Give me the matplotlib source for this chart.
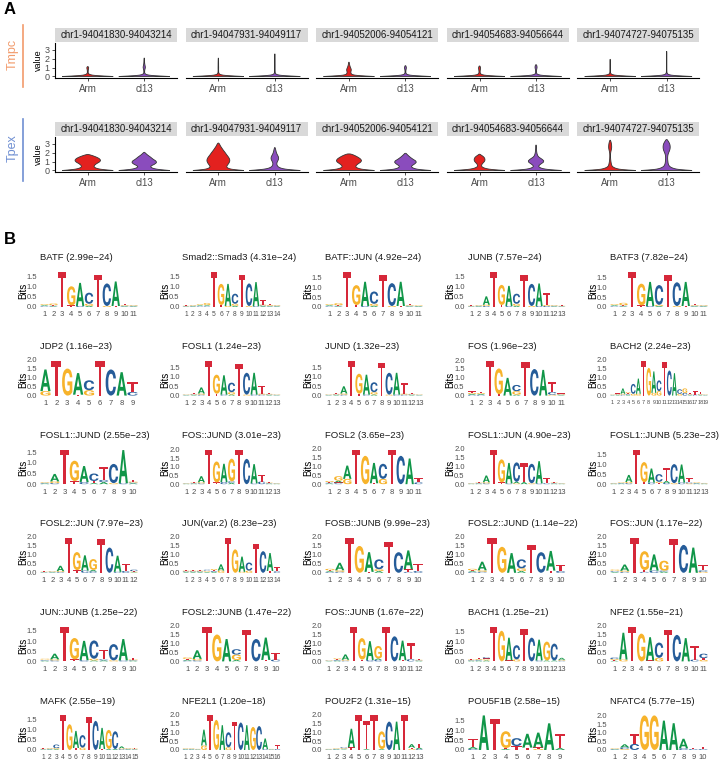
import re
import numpy as np
import matplotlib
matplotlib.use("Agg")
import matplotlib.pyplot as plt
from matplotlib.textpath import TextPath
from matplotlib.patches import PathPatch
from matplotlib.path import Path
from matplotlib.font_manager import FontProperties
from matplotlib.transforms import Affine2D
from matplotlib.lines import Line2D

W, H = 722, 763
plt.rcParams["font.family"] = ["Liberation Sans", "DejaVu Sans"]

# ---------------- panel A data ----------------
regions = ["chr1-94041830-94043214", "chr1-94047931-94049117", "chr1-94052006-94054121",
           "chr1-94054683-94056644", "chr1-94074727-94075135"]
groups = ["Arm", "cl13"]
group_colors = ["#E3211F", "#8A4CBD"]
row_names = ["Tmpc", "Tpex"]
row_colors = ["#F29B6C", "#6F8FD2"]

# violin half-width profile (fraction of max) at these value levels
levels = [0, .1, .2, .35, .5, .75, 1, 1.25, 1.5, 1.75, 2, 2.25, 2.5, 2.75, 3, 3.25]

tmpc_widths = [
    [[1, .3, .08, .02, .015, .02, .045],
     [1, .3, .08, .02, .015, .02, .05, .03, .015, .012, .01]],
    [[1, .3, .07, .02, .012, .01, .012, .01, .01, .008, .006],
     [1, .3, .07, .02, .012, .01, .01, .01, .01, .008, .008, .006, .005]],
    [[1, .35, .12, .08, .07, .1, .06, .03, .015],
     [1, .3, .07, .02, .015, .02, .045]],
    [[1, .3, .08, .03, .02, .03, .045],
     [1, .3, .07, .02, .015, .02, .045, .03]],
    [[1, .3, .07, .02, .01, .008, .008, .008, .008, .008],
     [1, .3, .07, .02, .01, .008, .008, .008, .008, .008, .008, .008, .008, .008]],
]
tmpc_tops = [[1.15, 2.1], [2.1, 2.55], [1.65, 1.3], [1.25, 1.35], [2.0, 2.85]]

tpex_widths = [
    [[1, .6, .38, .26, .24, .33, .5, .5, .35, .1],
     [1, .6, .38, .26, .25, .45, .5, .35, .25, .12, .03]],
    [[1, .6, .42, .33, .33, .4, .45, .45, .4, .33, .27, .2, .14, .08, .04],
     [1, .55, .3, .16, .1, .07, .1, .15, .15, .1, .06, .04, .02]],
    [[1, .6, .4, .28, .26, .36, .5, .48, .35, .18],
     [1, .55, .36, .25, .23, .38, .45, .3, .18, .08]],
    [[1, .5, .26, .12, .07, .1, .2, .22, .18, .05],
     [1, .5, .26, .13, .09, .2, .33, .25, .1, .05, .03, .02, .015, .01]],
    [[1, .45, .26, .13, .07, .045, .03, .02, .015, .015, .02, .04, .06, .06, .05, .03],
     [1, .5, .3, .17, .1, .06, .05, .04, .04, .05, .08, .12, .14, .14, .12, .07]],
]
tpex_tops = [[1.8, 2.05], [3.1, 2.6], [1.9, 2.0], [1.85, 2.9], [3.45, 3.55]]

# ---------------- panel B data ----------------
motif_names = ["BATF", "Smad2::Smad3", "BATF::JUN", "JUNB", "BATF3",
               "JDP2", "FOSL1", "JUND", "FOS", "BACH2",
               "FOSL1::JUND", "FOS::JUND", "FOSL2", "FOSL1::JUN", "FOSL1::JUNB",
               "FOSL2::JUN", "JUN(var.2)", "FOSB::JUNB", "FOSL2::JUND", "FOS::JUN",
               "JUN::JUNB", "FOSL2::JUNB", "FOS::JUNB", "BACH1", "NFE2",
               "MAFK", "NFE2L1", "POU2F2", "POU5F1B", "NFATC4"]
motif_pvals = ["2.99e\u221224", "4.31e\u221224", "4.92e\u221224", "7.57e\u221224", "7.82e\u221224",
               "1.16e\u221223", "1.24e\u221223", "1.32e\u221223", "1.96e\u221223", "2.24e\u221223",
               "2.55e\u221223", "3.01e\u221223", "3.65e\u221223", "4.90e\u221223", "5.23e\u221223",
               "7.97e\u221223", "8.23e\u221223", "9.99e\u221223", "1.14e\u221222", "1.17e\u221222",
               "1.25e\u221222", "1.47e\u221222", "1.67e\u221222", "1.25e\u221221", "1.55e\u221221",
               "2.55e\u221219", "1.20e\u221218", "1.31e\u221215", "2.58e\u221215", "5.77e\u221215"]

# letter heights (bits) per position
motif_cols = [
    ["A.04C.03G.04T.03", "A.03C.03G.08T.03", "T1.72", "T.08G.95", "C.05A1.15", "A.06G.1C.55",
     "T1.6", "G.05C1.12", "T.05A1.22", "A.03C.03G.03T.07", "A.03C.03G.03T.03"],
    ["A.02C.02G.02T.02", "A.03C.03G.03T.03", "A.04C.03G.04T.03", "A.04C.03G.1T.03", "T1.72",
     "T.1G1.05", "G.05A1.1", "A.06G.1C.5", "T1.6", "G.05C1.12", "C.04A1.2", "A.04C.04G.04T.22",
     "A.03C.03G.04T.04", "A.03C.03G.03T.03"],
    ["A.04C.03G.04T.03", "A.03C.03G.1T.03", "T1.74", "T.1G1.0", "C.05A1.22", "A.06G.1C.62",
     "T1.6", "G.05C1.15", "T.05A1.22", "A.03C.03G.03T.08", "A.03C.02G.03T.03"],
    ["A.02C.02G.02T.02", "A.03C.03G.03T.03", "C.05G.06A.42", "T1.72", "T.1G1.0", "C.05A1.0",
     "A.06G.1C.5", "T1.58", "G.05C1.1", "C.05A1.12", "C.05G.05T.62", "A.03C.03G.03T.03",
     "A.02C.02G.02T.02"],
    ["A.04C.03G.04T.03", "A.03C.03G.12T.03", "T1.75", "T.08G1.1", "C.05A1.22", "A.05G.06C1.0",
     "T1.6", "G.05C1.2", "T.05A1.22", "A.03C.03G.03T.08", "A.03C.03G.03T.03"],
    ["G.25A1.2", "T1.92", "G1.5", "T.05A1.2", "G.3C.55", "T1.92", "C1.45", "A1.3", "C.2T.55"],
    ["A.02C.02G.02T.02", "A.03C.03G.03T.03", "C.05G.06A.32", "T1.82", "T.1G1.0", "C.05A1.02",
     "A.06G.12C.5", "T1.68", "G.05C1.15", "C.05A1.15", "C.05G.05T.4", "A.03C.03G.03T.03",
     "A.02C.02G.02T.02"],
    ["A.02C.02G.02T.02", "A.03C.03G.03T.03", "C.05G.06A.38", "T1.82", "T.1G1.05", "C.05A1.05",
     "A.06G.12C.52", "T1.72", "G.05C1.15", "C.05A1.15", "C.05G.05T.55", "A.03C.03G.03T.03",
     "A.02C.02G.02T.02"],
    ["A.05C.04G.06T.08", "A.05C.04G.05T.05", "T1.95", "T.08G1.45", "A1.0", "A.05G.2C.35", "T1.9",
     "C1.5", "A1.45", "G.05C.15T.55", "A.03C.03G.03T.03"],
    ["A.02C.02G.02T.02", "A.03C.03G.03T.03", "C.05G.05A.3", "A.04C.04G.06T.05", "G.1C.55",
     "G.1A.85", "T1.93", "G1.55", "G.15A1.2", "G.25C.6", "T1.85", "C1.4", "A1.25", "G.1C.25",
     "C.15G.25", "A.03C.03G.03T.05", "C.05T.18", "A.03C.03G.03T.12", "A.02C.02G.02T.03"],
    ["A.03C.03G.03T.03", "C.05G.08A.35", "T1.62", "T.15G.95", "C.1A.75", "T.1A.05C.35",
     "A.1C.1T.6", "G.05C.9", "C.05A1.55", "A.04C.04G.04T.08"],
    ["A.02C.02G.02T.02", "A.03C.03G.03T.03", "C.05G.06A.35", "T1.98", "T.1G1.2", "C.12A1.05",
     "A.08C.08G1.3", "T1.98", "C1.45", "C.05A1.1", "C.15T.4", "A.03C.03G.03T.03",
     "A.02C.02G.02T.02"],
    ["A.04C.04G.06T.04", "A.1C.05G.25T.05", "G.3A.75", "T1.95", "G1.6", "T.05A1.15", "G.3C.85",
     "T1.95", "C1.6", "A1.45", "C.1T.25"],
    ["A.02C.02G.02T.02", "A.03C.03G.03T.03", "C.05G.06A.38", "T1.95", "T.1G1.3", "C.05A1.15",
     "A.08G.05C1.1", "A.12T1.05", "G.05C1.1", "C.05A1.25", "C.05T.3", "A.03C.03G.03T.03",
     "A.02C.02G.02T.02"],
    ["A.02C.02G.02T.02", "A.03C.03G.03T.03", "C.05G.06A.35", "T1.72", "T.1G1.0", "C.08A.7",
     "T.06G.06C.38", "A.1C.06T.65", "G.05C.95", "C.08A.9", "C.05G.04T.22", "A.03C.03G.03T.03",
     "A.02C.02G.02T.02"],
    ["A.02C.02G.02T.02", "A.03C.03G.03T.03", "C.04G.05A.3", "T1.92", "T.15G1.0", "C.12A.85",
     "C.08A.08G.6", "T1.85", "C1.4", "C.05A.9", "C.1T.4", "A.03C.08G.03T.03"],
    ["A.04C.04G.04T.04", "A.04C.04G.04T.04", "A.04C.04G.04T.04", "A.04C.05G.04T.04",
     "A.05C.05G.06T.05", "G.12A.35", "T1.92", "G1.3", "G.05A.85", "G.12C.45", "T1.6", "C1.2",
     "T.1A1.0", "C.08T.25"],
    ["A.05C.04G.08T.05", "C.06G.08A.42", "T1.93", "G1.5", "T.05A1.1", "A.1G.1C.55", "T1.7",
     "C1.15", "C.05T.15A1.05", "C.1T.4"],
    ["A.05C.04G.08T.05", "C.06G.08A.48", "T1.93", "G1.45", "A1.1", "A.1G.15C.5", "T1.55",
     "C1.15", "T.12A1.1", "C.1T.35"],
    ["A.04C.04G.06T.04", "C.05G.06A.35", "T1.92", "T.1C.05G1.05", "C.12A.9", "A.06C.06G.55",
     "T1.88", "C1.55", "A1.4", "C.08G.05T.32"],
    ["A.03C.03G.04T.03", "C.05G.05A.28", "T1.7", "T.1G1.05", "C.06A.95", "A.05G.08C.9",
     "A.05C.05T.48", "G.05C.8", "C.05A1.05", "A.03C.03G.03T.1"],
    ["A.05C.04G.08T.05", "C.06G.08A.48", "T1.93", "G1.5", "A1.25", "A.08G.3C.3", "T1.75",
     "C1.25", "T.08A1.25", "C.1T.38"],
    ["A.02C.02G.02T.02", "A.04C.04G.05T.04", "C.04G.05A.3", "T1.93", "T.1G1.2", "C.08A1.05",
     "C.08A.08G.7", "T1.9", "C1.4", "T.06A1.1", "C.12T.9", "A.03C.03G.03T.03"],
    ["A.03C.03G.03T.03", "A.04C.04G.04T.04", "A.05C.06G.05T.05", "T1.75", "G1.55", "T.05A1.15",
     "G.1C.72", "T1.62", "C1.2", "C.05A1.05", "A.05G.95", "A.05C.85", "C.04G.04A.1"],
    ["A.04C.08G.05T.04", "G.1A1.5", "T1.93", "G1.55", "T.05A1.3", "G.2C.85", "T1.78", "C1.48",
     "A1.3", "C.1T.75", "T.1G.08C.25"],
    ["A.02C.02G.02T.02", "A.03C.03G.03T.03", "A.04G.05C.18", "T1.72", "G1.28", "T.1A.85",
     "G.12C.62", "T1.62", "C1.45", "T.05A1.05", "A.05G.95", "A.05C.88", "C.04G.04A.1",
     "A.03C.03G.03T.03", "A.02C.02G.03T.03"],
    ["A.03C.03G.03T.03", "A.03C.03G.03T.03", "A.02C.02G.02T.02", "G.25A.9", "T1.95", "G1.7",
     "A1.4", "G.15C.85", "T1.6", "C1.55", "A1.4", "G1.3", "C1.35", "C.05A.6", "A.02C.02G.02T.02",
     "C.05T.22"],
    ["A.02C.02G.02T.02", "A.03C.03G.03T.03", "A.03C.05G.04T.03", "T.15A1.05", "T1.95", "A.05T1.6",
     "T1.95", "A.05G1.0", "C1.6", "A1.6", "T1.95", "G.05T.08A.2", "C.05A.08T.22"],
    ["A.1C.05T.4", "A1.75", "T1.55", "A.05T.05G.85", "T.2C.4", "T.12A.7", "G.05T.08A.75", "A1.35",
     "A.1T.7"],
    ["A.03C.03G.03T.03", "G.05C.1A.18", "C.35T.55", "G2.0", "G2.0", "A1.7", "A1.55", "C.1A.55",
     "C.05T.06", "C.05T.15"],
]

LOGO_COLORS = {"A": "#109648", "C": "#255C99", "G": "#F7B32B", "T": "#D62839"}
LOGO_FONT = FontProperties(family="Roboto", weight="bold")
GREY30 = "#4D4D4D"


def rect(l, t, w, h):
    return [l / W, 1 - (t + h) / H, w / W, h / H]


def smooth_path(pts):
    # quadratic B-spline through midpoints, ends fixed
    verts = [pts[0], (pts[0] + pts[1]) / 2]
    codes = [Path.MOVETO, Path.LINETO]
    for i in range(1, len(pts) - 1):
        verts += [pts[i], (pts[i] + pts[i + 1]) / 2]
        codes += [Path.CURVE3, Path.CURVE3]
    verts += [pts[-1], pts[0]]
    codes += [Path.LINETO, Path.CLOSEPOLY]
    return Path(np.array(verts), codes)


def violin(ax, xc, widths, top, color):
    ys = np.array(levels[:len(widths)] + [top])
    ws = np.array(widths + [0]) * 0.45
    right = np.column_stack([xc + ws, ys])
    left = np.column_stack([xc - ws, ys])[::-1][1:]
    pts = np.vstack([right, left])
    ax.add_patch(PathPatch(smooth_path(pts), fc=color, ec="#333333", lw=0.6))


def letter(ax, ch, x, y, h, w=0.94):
    tp = TextPath((0, 0), ch, size=1, prop=LOGO_FONT)
    bb = tp.get_extents()
    tr = (Affine2D().translate(-bb.x0, -bb.y0)
          .scale(w / bb.width, h / bb.height).translate(x - w / 2, y))
    ax.add_patch(PathPatch(tr.transform_path(tp), fc=LOGO_COLORS[ch], ec="none", lw=0))


fig = plt.figure(figsize=(W / 100, H / 100), dpi=100)

# ---------------- panel A ----------------
fig.text(4 / W, 1 - 9 / H, "A", fontsize=12, fontweight="bold", va="center", ha="left")

row_strip_top = [28, 122]
row_panel_top = [43, 137]
row_widths = [tmpc_widths, tpex_widths]
row_tops = [tmpc_tops, tpex_tops]

for r in range(2):
    pt = row_panel_top[r]
    ph = 35
    for f in range(5):
        left = 55 + 130.6 * f
        sax = fig.add_axes(rect(left, row_strip_top[r], 122, 14))
        sax.set_facecolor("#D9D9D9")
        sax.set_xticks([]); sax.set_yticks([])
        for s in sax.spines.values():
            s.set_visible(False)
        sax.text(0.5, 0.5, regions[f], ha="center", va="center", fontsize=7,
                 color="#1A1A1A", transform=sax.transAxes)

        ax = fig.add_axes(rect(left, pt, 122, ph))
        for g in range(2):
            violin(ax, g + 1, row_widths[r][f][g], row_tops[r][f][g], group_colors[g])
        ax.set_xlim(0.42, 2.58)
        ax.set_ylim(-0.17, 3.75)
        ax.set_xticks([1, 2])
        ax.set_xticklabels(groups)
        ax.tick_params(axis="x", labelsize=7, labelcolor=GREY30, length=2.5, width=0.6,
                       color="#333333", pad=2)
        for k in ["top", "right"]:
            ax.spines[k].set_visible(False)
        ax.spines["bottom"].set_linewidth(0.8)
        if f == 0:
            ax.set_yticks([0, 1, 2, 3])
            ax.tick_params(axis="y", labelsize=6.5, labelcolor=GREY30, length=2.5, width=0.6,
                           color="#333333", pad=1.5)
            ax.spines["left"].set_linewidth(0.8)
            ax.set_ylabel("value", fontsize=6.5, labelpad=1)
        else:
            ax.set_yticks([])
            ax.spines["left"].set_visible(False)

    # row label with coloured bar
    mid = (row_strip_top[r] + pt + ph) / 2
    fig.text(13 / W, 1 - (mid + 1) / H, row_names[r], rotation=90, fontsize=9,
             color=row_colors[r], ha="center", va="center")
    fig.add_artist(Line2D([23 / W, 23 / W], [1 - (row_strip_top[r] - 3) / H, 1 - (pt + ph + 9) / H],
                          color=row_colors[r], lw=1.2, transform=fig.transFigure))

# ---------------- panel B ----------------
fig.text(4 / W, 1 - 239 / H, "B", fontsize=12, fontweight="bold", va="center", ha="left")

for m, cols in enumerate(motif_cols):
    r, c = divmod(m, 5)
    left = 40 + 142.5 * c
    zero = 307 + 88.6 * r
    pw, ph = 98, 38
    ax = fig.add_axes(rect(left, zero + 1.7 - ph, pw, ph))
    ymax = 0
    for i, col in enumerate(cols):
        pairs = [(ch, float(h)) for ch, h in re.findall(r"([ACGT])([\d.]+)", col)]
        pairs.sort(key=lambda p: p[1])
        y = 0
        for ch, h in pairs:
            letter(ax, ch, i + 1, y, h)
            y += h
        ymax = max(ymax, y)
    n = len(cols)
    ax.set_xlim(0.5, n + 0.5)
    ax.set_ylim(-0.05 * ymax, 1.05 * ymax)
    ax.set_xticks(range(1, n + 1))
    ax.set_xticklabels([str(k) for k in range(1, n + 1)],
                       fontsize=5.5 if n <= 13 else (4.8 if n <= 16 else 4.0))
    ax.set_yticks(np.arange(0, 1.05 * ymax + 1e-9, 0.5))
    ax.set_yticklabels(["%.1f" % v for v in np.arange(0, 1.05 * ymax + 1e-9, 0.5)],
                       fontsize=5.5)
    ax.tick_params(labelcolor=GREY30, length=0, pad=2)
    for s in ax.spines.values():
        s.set_visible(False)
    ax.patch.set_alpha(0)
    fig.text((left - 17) / W, 1 - (zero - 16) / H, "Bits", rotation=90, fontsize=7,
             ha="center", va="center")
    fig.text(left / W, 1 - (zero - 49) / H, "%s (%s)" % (motif_names[m], motif_pvals[m]),
             fontsize=6.8, ha="left", va="center", color="#1A1A1A")

fig.savefig("out.png", dpi=100)
